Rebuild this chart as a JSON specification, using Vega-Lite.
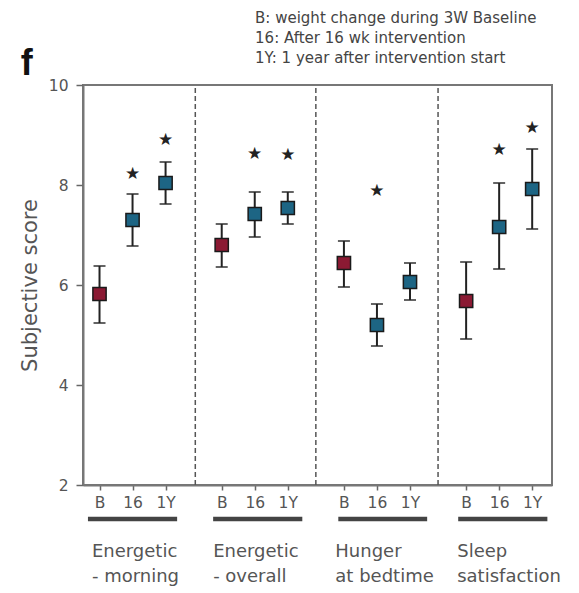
{
  "$schema": "https://vega.github.io/schema/vega-lite/v6.json",
  "autosize": {"type": "none"},
  "width": 469,
  "height": 400,
  "padding": {"left": 83, "top": 85, "right": 27, "bottom": 108},
  "background": "white",
  "config": {
    "font": "DejaVu Sans",
    "view": {"stroke": "#777", "strokeWidth": 2}
  },
  "datasets": {
    "scores": [
      {"group": "Energetic - morning", "time": "B", "x": 0.5, "mean": 5.82, "lo": 5.24, "hi": 6.38, "star": null},
      {"group": "Energetic - morning", "time": "16", "x": 1.5, "mean": 7.3, "lo": 6.78, "hi": 7.82, "star": 8.22},
      {"group": "Energetic - morning", "time": "1Y", "x": 2.5, "mean": 8.04, "lo": 7.62, "hi": 8.46, "star": 8.9},
      {"group": "Energetic - overall", "time": "B", "x": 4.2, "mean": 6.8, "lo": 6.36, "hi": 7.22, "star": null},
      {"group": "Energetic - overall", "time": "16", "x": 5.2, "mean": 7.42, "lo": 6.96, "hi": 7.86, "star": 8.62},
      {"group": "Energetic - overall", "time": "1Y", "x": 6.2, "mean": 7.54, "lo": 7.22, "hi": 7.86, "star": 8.6},
      {"group": "Hunger at bedtime", "time": "B", "x": 7.9, "mean": 6.44, "lo": 5.96, "hi": 6.88, "star": null},
      {"group": "Hunger at bedtime", "time": "16", "x": 8.9, "mean": 5.2, "lo": 4.78, "hi": 5.62, "star": 7.88},
      {"group": "Hunger at bedtime", "time": "1Y", "x": 9.9, "mean": 6.06, "lo": 5.7, "hi": 6.44, "star": null},
      {"group": "Sleep satisfaction", "time": "B", "x": 11.6, "mean": 5.68, "lo": 4.92, "hi": 6.46, "star": null},
      {"group": "Sleep satisfaction", "time": "16", "x": 12.6, "mean": 7.16, "lo": 6.32, "hi": 8.04, "star": 8.7},
      {"group": "Sleep satisfaction", "time": "1Y", "x": 13.6, "mean": 7.92, "lo": 7.12, "hi": 8.72, "star": 9.14}
    ],
    "groups": [
      {"label": "Energetic\n- morning", "x0": 0.15, "x1": 2.85, "lx": 0.27},
      {"label": "Energetic\n- overall", "x0": 3.94, "x1": 6.64, "lx": 3.94},
      {"label": "Hunger\nat bedtime", "x0": 7.73, "x1": 10.42, "lx": 7.64},
      {"label": "Sleep\nsatisfaction", "x0": 11.36, "x1": 14.06, "lx": 11.33}
    ],
    "dividers": [{"x": 3.4}, {"x": 7.05}, {"x": 10.75}],
    "notes": [
      {"text": "B: weight change during 3W Baseline", "x": 5.21, "y": 11.34},
      {"text": "16: After 16 wk intervention", "x": 5.21, "y": 10.94},
      {"text": "1Y: 1 year after  intervention start", "x": 5.21, "y": 10.54}
    ],
    "panel": [{"text": "f", "x": -1.7, "y": 10.42}]
  },
  "layer": [
    {
      "data": {"name": "dividers"},
      "mark": {"type": "rule", "color": "#555", "strokeWidth": 1.5, "strokeDash": [5, 3]},
      "encoding": {
        "x": {"field": "x", "type": "quantitative", "scale": {"domain": [0, 14.2], "nice": false, "zero": false},
          "axis": {
            "values": [0.5, 1.5, 2.5, 4.2, 5.2, 6.2, 7.9, 8.9, 9.9, 11.6, 12.6, 13.6],
            "labelExpr": "indexof([0.5, 4.2, 7.9, 11.6], datum.value) >= 0 ? 'B' : (indexof([1.5, 5.2, 8.9, 12.6], datum.value) >= 0 ? '16' : '1Y')",
            "title": null, "grid": false, "labelFontSize": 15.5, "labelColor": "#555",
            "tickSize": 5, "tickColor": "#666", "tickWidth": 1.5, "labelPadding": 5,
            "domainColor": "#777", "domainWidth": 2, "labelFlush": false
          }},
        "y": {"datum": 2, "type": "quantitative"},
        "y2": {"datum": 10}
      }
    },
    {
      "data": {"name": "scores"},
      "mark": {"type": "rule", "color": "#222", "strokeWidth": 2},
      "encoding": {
        "x": {"field": "x", "type": "quantitative"},
        "y": {"field": "lo", "type": "quantitative", "scale": {"domain": [2, 10], "nice": false, "zero": false},
          "axis": {
            "values": [2, 4, 6, 8, 10], "title": "Subjective score", "grid": false,
            "labelFontSize": 15.5, "labelColor": "#555", "tickSize": 7, "tickColor": "#666", "tickWidth": 1.5,
            "labelPadding": 8, "domainColor": "#777", "domainWidth": 2,
            "titleFontSize": 21, "titleColor": "#555", "titleFontWeight": "normal", "titlePadding": 8
          }},
        "y2": {"field": "hi"}
      }
    },
    {
      "data": {"name": "scores"},
      "mark": {"type": "tick", "orient": "horizontal", "color": "#222", "size": 12, "thickness": 2},
      "encoding": {
        "x": {"field": "x", "type": "quantitative"},
        "y": {"field": "lo", "type": "quantitative"}
      }
    },
    {
      "data": {"name": "scores"},
      "mark": {"type": "tick", "orient": "horizontal", "color": "#222", "size": 12, "thickness": 2},
      "encoding": {
        "x": {"field": "x", "type": "quantitative"},
        "y": {"field": "hi", "type": "quantitative"}
      }
    },
    {
      "data": {"name": "scores"},
      "mark": {"type": "point", "shape": "square", "filled": true, "size": 175, "stroke": "#1a1a1a", "strokeWidth": 1.5, "opacity": 1},
      "encoding": {
        "x": {"field": "x", "type": "quantitative"},
        "y": {"field": "mean", "type": "quantitative"},
        "fill": {"field": "time", "type": "nominal", "scale": {"domain": ["B", "16", "1Y"], "range": ["#8b1a33", "#1d6584", "#1d6584"]}, "legend": null}
      }
    },
    {
      "data": {"name": "scores"},
      "transform": [{"filter": "datum.star != null"}],
      "mark": {"type": "text", "text": "★", "font": "DejaVu Sans", "fontSize": 17, "color": "#222", "baseline": "middle", "align": "center"},
      "encoding": {
        "x": {"field": "x", "type": "quantitative"},
        "y": {"field": "star", "type": "quantitative"}
      }
    },
    {
      "data": {"name": "groups"},
      "mark": {"type": "rule", "color": "#444", "strokeWidth": 4.5},
      "encoding": {
        "x": {"field": "x0", "type": "quantitative"},
        "x2": {"field": "x1"},
        "y": {"datum": 1.32, "type": "quantitative"}
      }
    },
    {
      "data": {"name": "groups"},
      "mark": {"type": "text", "align": "left", "baseline": "top", "fontSize": 18, "lineHeight": 25, "lineBreak": "\n", "color": "#555"},
      "encoding": {
        "x": {"field": "lx", "type": "quantitative"},
        "y": {"datum": 0.84, "type": "quantitative"},
        "text": {"field": "label"}
      }
    },
    {
      "data": {"name": "notes"},
      "mark": {"type": "text", "align": "left", "baseline": "middle", "fontSize": 15, "color": "#444"},
      "encoding": {
        "x": {"field": "x", "type": "quantitative"},
        "y": {"field": "y", "type": "quantitative"},
        "text": {"field": "text"}
      }
    },
    {
      "data": {"name": "panel"},
      "mark": {"type": "text", "align": "center", "baseline": "middle", "font": "Liberation Sans", "fontSize": 36, "fontWeight": "bold", "color": "#111"},
      "encoding": {
        "x": {"field": "x", "type": "quantitative"},
        "y": {"field": "y", "type": "quantitative"},
        "text": {"field": "text"}
      }
    }
  ]
}
